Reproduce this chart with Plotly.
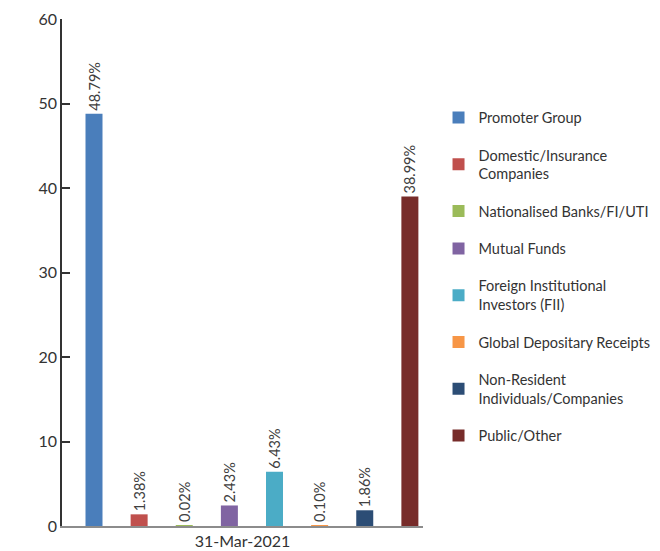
import plotly.graph_objects as go

# shareholding pattern, 31-Mar-2021 (percent)
category = "31-Mar-2021"
holders = [
    "Promoter Group",
    "Domestic/Insurance<br>Companies",
    "Nationalised Banks/FI/UTI",
    "Mutual Funds",
    "Foreign Institutional<br>Investors (FII)",
    "Global Depositary Receipts",
    "Non-Resident<br>Individuals/Companies",
    "Public/Other",
]
shares = [48.79, 1.38, 0.02, 2.43, 6.43, 0.10, 1.86, 38.99]
colors = ["#4a7ebb", "#c0504d", "#9bbb59", "#8064a2",
          "#4bacc6", "#f79646", "#2c4d75", "#772c2a"]
slot_edges = [1, 2, 3, 4, 5, 6, 7, 8]

FONT = "Lato, Open Sans, sans-serif"
axis_px = 361.0
n = len(holders)
bar_w = 17 / axis_px

fig = go.Figure()
for i, (name, val, col) in enumerate(zip(holders, shares, colors)):
    fig.add_trace(go.Bar(
        x=[category],
        y=[val],
        name=name,
        legendgroup=f"g{i}",
        marker=dict(color=col, line=dict(width=0)),
        width=bar_w,
        offset=-0.5 + i / n + 23.5 / axis_px,
        text=[f"{val:.2f}%"],
        textposition="outside",
        textangle=-90,
        constraintext="none",
        cliponaxis=False,
        textfont=dict(family=FONT, size=14.5, color="#404040"),
    ))

# the page sits 8px in from the window corner, so margins are offset by that;
# figure is a bit wider than the window so the legend doesn't squeeze the plot
fig.update_layout(
    width=680,
    height=551,
    paper_bgcolor="white",
    plot_bgcolor="white",
    barmode="overlay",
    margin=dict(l=54, r=265, t=11, b=33),
    font=dict(family=FONT, size=15, color="#333333"),
    legend=dict(
        x=1.043, y=0.837, xanchor="left", yanchor="top",
        font=dict(family=FONT, size=14.5, color="#333333"),
        tracegroupgap=15.5,
        itemwidth=30,
    ),
    xaxis=dict(
        type="category",
        range=[-0.5, 0.5],
        automargin=False,
        showline=True, linecolor="#8c8c8c", linewidth=2,
        ticks="", showgrid=False, zeroline=False,
        tickfont=dict(family=FONT, size=16, color="#333333"),
        ticklabelstandoff=0,
    ),
    xaxis2=dict(
        overlaying="x", anchor="y",
        range=[0, n], tickvals=slot_edges,
        ticks="inside", ticklen=13, tickwidth=1.5, tickcolor="#444444",
        showticklabels=False, showline=False, showgrid=False, zeroline=False,
    ),
    yaxis=dict(
        range=[0, 60], dtick=10,
        automargin=False,
        showline=True, linecolor="#333333", linewidth=1.5,
        ticks="inside", ticklen=8, tickwidth=1.5, tickcolor="#333333",
        showgrid=False, zeroline=False,
        tickfont=dict(family=FONT, size=16, color="#333333"),
        ticklabelstandoff=0,
    ),
)

fig.write_html("out.html")
